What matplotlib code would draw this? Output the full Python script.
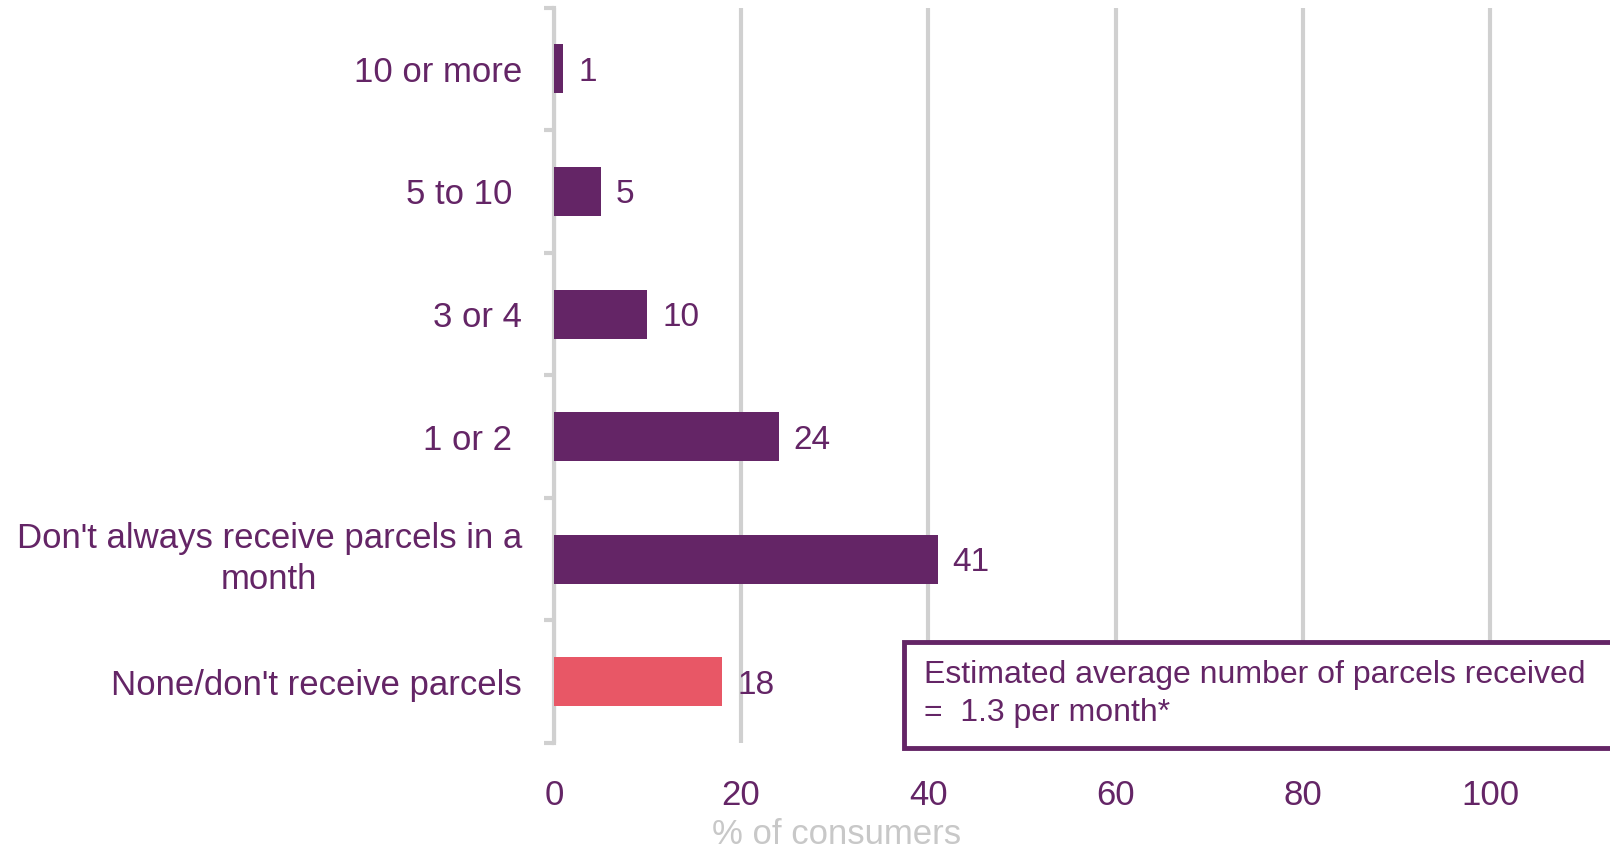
import matplotlib.pyplot as plt
from matplotlib.patches import Rectangle

plt.rcParams["font.family"] = ["Liberation Sans", "DejaVu Sans"]

PURPLE = "#642566"
CORAL = "#E85766"
GREY = "#D0D0D0"

categories = [
    "10 or more",
    "5 to 10 ",
    "3 or 4",
    "1 or 2 ",
    "Don't always receive parcels in a\nmonth",
    "None/don't receive parcels",
]
shares = [1, 5, 10, 24, 41, 18]
bar_colors = [PURPLE, PURPLE, PURPLE, PURPLE, PURPLE, CORAL]
x_ticks = [0, 20, 40, 60, 80, 100]
note = "Estimated average number of parcels received\n=  1.3 per month*"


def main():
    fig = plt.figure(figsize=(16.1, 8.51), dpi=100)
    ax = fig.add_axes([0.344, 0.127, 0.656, 0.864])

    pos = list(range(len(categories)))
    ax.barh(pos, shares, height=0.4, color=bar_colors, zorder=3)
    for y, v in zip(pos, shares):
        ax.text(v + 1.6, y, str(v), va="center_baseline", ha="left",
                fontsize=24, color=PURPLE, zorder=4)

    ax.set_xlim(0, 112.8)
    ax.set_ylim(5.5, -0.5)

    ax.set_yticks(pos)
    ax.set_yticklabels(categories, fontsize=25, color=PURPLE,
                       multialignment="center", linespacing=1.28)
    for lbl in ax.get_yticklabels():
        if "\n" in lbl.get_text():
            lbl.set_verticalalignment("center")
    ax.set_yticks([p - 0.5 for p in pos] + [5.5], minor=True)
    ax.tick_params(axis="y", which="major", length=0, pad=23)
    ax.tick_params(axis="y", which="minor", length=7, width=3, color=GREY)

    ax.set_xticks(x_ticks)
    ax.tick_params(axis="x", length=0, labelsize=25, labelcolor=PURPLE, pad=26)

    ax.grid(axis="x", color=GREY, linewidth=3, zorder=0)
    for side in ["top", "right", "bottom"]:
        ax.spines[side].set_visible(False)
    ax.spines["left"].set_color(GREY)
    ax.spines["left"].set_linewidth(3)

    fig.text(837 / 1610, 1 - 835 / 851, "% of consumers", fontsize=25,
             color="#C8C8C8", ha="center", va="center")

    # note box in the lower right corner, covers the grid behind it
    fig.patches.append(Rectangle((904 / 1610, 1 - 748 / 851), 0.45, 106 / 851,
                                 transform=fig.transFigure, facecolor="white",
                                 edgecolor=PURPLE, linewidth=3.5, zorder=5))
    fig.text(924 / 1610, 1 - 694 / 851, note, fontsize=23, color=PURPLE,
             va="center", ha="left", linespacing=1.35, zorder=6)

    fig.savefig("out.png", dpi=100)


if __name__ == "__main__":
    main()
